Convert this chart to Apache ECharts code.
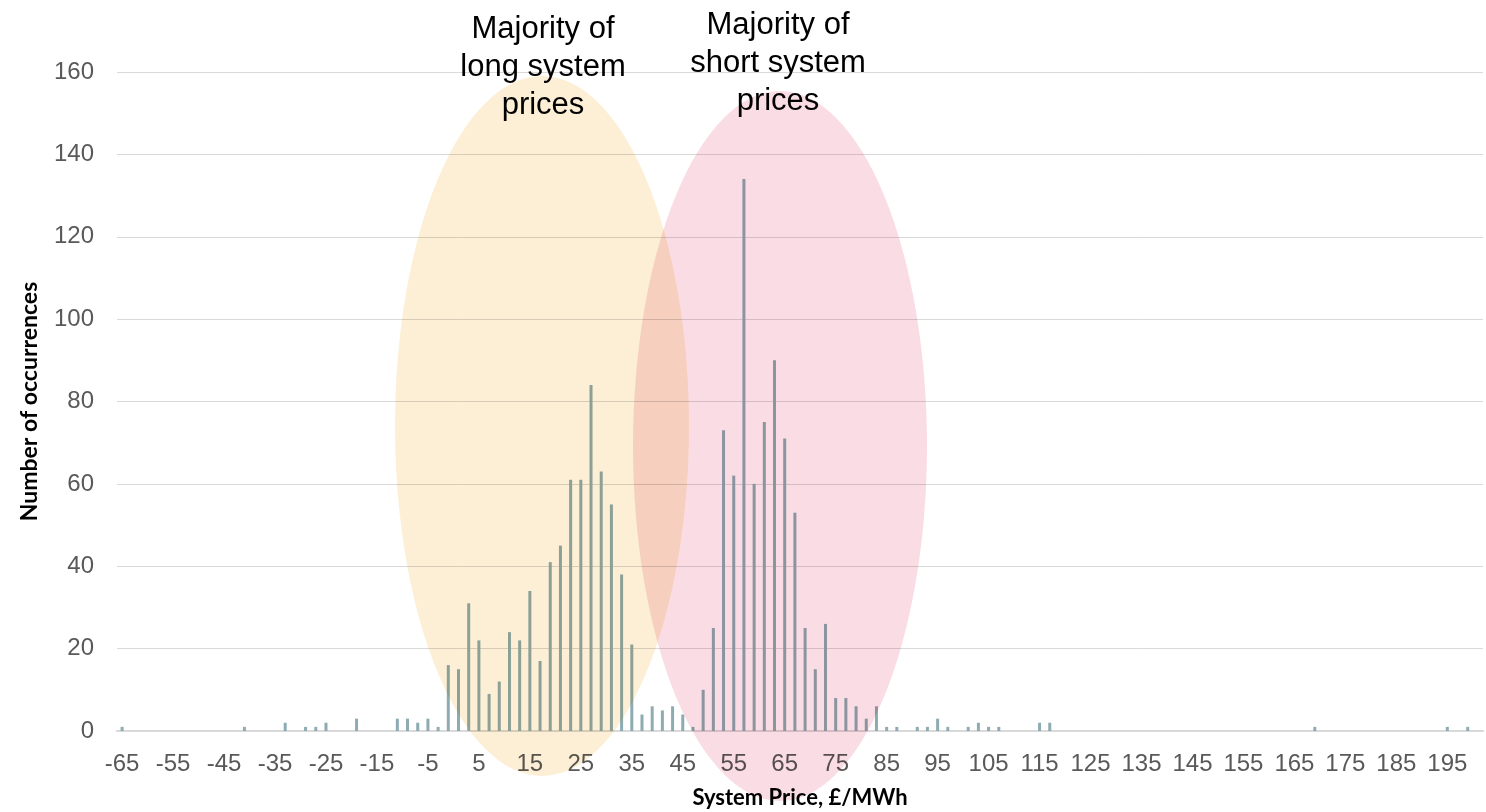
<!DOCTYPE html>
<html>
<head>
<meta charset="utf-8">
<script src="https://cdn.jsdelivr.net/npm/echarts@6/dist/echarts.min.js"></script>
<style>
    html, body { margin: 0; padding: 0; background: #fff; }
    #pricechart { width: 1486px; height: 812px; }
</style>
</head>
<body>
<div id="pricechart"></div>
<script>
// bins of system price (£/MWh), 2 wide
var priceBins = [
    '-65', '-63', '-61', '-59', '-57', '-55', '-53', '-51', '-49', '-47',
    '-45', '-43', '-41', '-39', '-37', '-35', '-33', '-31', '-29', '-27',
    '-25', '-23', '-21', '-19', '-17', '-15', '-13', '-11', '-9', '-7',
    '-5', '-3', '-1', '1', '3', '5', '7', '9', '11', '13',
    '15', '17', '19', '21', '23', '25', '27', '29', '31', '33',
    '35', '37', '39', '41', '43', '45', '47', '49', '51', '53',
    '55', '57', '59', '61', '63', '65', '67', '69', '71', '73',
    '75', '77', '79', '81', '83', '85', '87', '89', '91', '93',
    '95', '97', '99', '101', '103', '105', '107', '109', '111', '113',
    '115', '117', '119', '121', '123', '125', '127', '129', '131', '133',
    '135', '137', '139', '141', '143', '145', '147', '149', '151', '153',
    '155', '157', '159', '161', '163', '165', '167', '169', '171', '173',
    '175', '177', '179', '181', '183', '185', '187', '189', '191', '193',
    '195', '197', '199', '201'
];

// number of occurrences per bin
var occurrences = [
    1, 0, 0, 0, 0, 0, 0, 0, 0, 0,
    0, 0, 1, 0, 0, 0, 2, 0, 1, 1,
    2, 0, 0, 3, 0, 0, 0, 3, 3, 2,
    3, 1, 16, 15, 31, 22, 9, 12, 24, 22,
    34, 17, 41, 45, 61, 61, 84, 63, 55, 38,
    21, 4, 6, 5, 6, 4, 1, 10, 25, 73,
    62, 134, 60, 75, 90, 71, 53, 25, 15, 26,
    8, 8, 6, 3, 6, 1, 1, 0, 1, 1,
    3, 1, 0, 1, 2, 1, 1, 0, 0, 0,
    2, 2, 0, 0, 0, 0, 0, 0, 0, 0,
    0, 0, 0, 0, 0, 0, 0, 0, 0, 0,
    0, 0, 0, 0, 0, 0, 0, 1, 0, 0,
    0, 0, 0, 0, 0, 0, 0, 0, 0, 0,
    1, 0, 1, 0
];

var yTicks = [0, 20, 40, 60, 80, 100, 120, 140, 160];

var longText = ['Majority of', 'long system', 'prices'];
var shortText = ['Majority of', 'short system', 'prices'];

var chartDom = document.getElementById('pricechart');
var priceChart = echarts.init(chartDom);

var labelFont = '"Liberation Sans", Arial, sans-serif';
var nameFont = 'Lato, "Open Sans", sans-serif';

var option = {
    animation: false,
    grid: {
        left: 117,
        right: 3,
        top: 72,
        bottom: 81,
        containLabel: false,
        outerBoundsMode: 'none'
    },
    xAxis: {
        type: 'category',
        data: priceBins,
        boundaryGap: true,
        name: 'System Price, £/MWh',
        nameLocation: 'middle',
        nameGap: 56,
        nameTextStyle: {
            fontFamily: nameFont,
            fontWeight: 'bold',
            fontSize: 22,
            color: '#000'
        },
        axisTick: { show: false },
        axisLine: {
            lineStyle: { color: '#d9d9d9', width: 2 }
        },
        axisLabel: {
            interval: 4,
            margin: 21,
            fontFamily: labelFont,
            fontSize: 24,
            color: '#595959'
        },
        splitLine: { show: false }
    },
    yAxis: {
        type: 'value',
        min: yTicks[0],
        max: yTicks[yTicks.length - 1],
        interval: 20,
        name: 'Number of occurrences',
        nameLocation: 'middle',
        nameGap: 76,
        nameRotate: 90,
        nameTextStyle: {
            fontFamily: nameFont,
            fontWeight: 'bold',
            fontSize: 23,
            color: '#000'
        },
        axisLine: { show: false },
        axisTick: { show: false },
        axisLabel: {
            margin: 23,
            fontFamily: labelFont,
            fontSize: 24,
            color: '#595959'
        },
        splitLine: {
            lineStyle: { color: '#d9d9d9', width: 1 }
        }
    },
    series: [
        {
            name: 'Occurrences',
            type: 'bar',
            data: occurrences,
            barWidth: 3,
            itemStyle: { color: '#8eabb2' }
        }
    ],
    graphic: [
        {
            type: 'text',
            x: 543,
            y: 67,
            z: 50,
            style: {
                text: longText.join('\n'),
                font: '31px "Liberation Sans", Arial, sans-serif',
                fill: '#000',
                align: 'center',
                verticalAlign: 'middle',
                lineHeight: 38
            }
        },
        {
            type: 'text',
            x: 778,
            y: 63,
            z: 50,
            style: {
                text: shortText.join('\n'),
                font: '31px "Liberation Sans", Arial, sans-serif',
                fill: '#000',
                align: 'center',
                verticalAlign: 'middle',
                lineHeight: 38
            }
        },
        {
            // long system prices ellipse
            type: 'circle',
            x: 542,
            y: 426,
            scaleX: 147 / 350,
            scaleY: 1,
            z: 100,
            shape: { cx: 0, cy: 0, r: 350 },
            style: { fill: '#fcefd6', blend: 'multiply' },
            silent: true
        },
        {
            // short system prices ellipse
            type: 'circle',
            x: 780,
            y: 446,
            scaleX: 147 / 355,
            scaleY: 1,
            z: 100,
            shape: { cx: 0, cy: 0, r: 355 },
            style: { fill: '#fadde4', blend: 'multiply' },
            silent: true
        }
    ]
};

priceChart.setOption(option);
</script>
</body>
</html>
